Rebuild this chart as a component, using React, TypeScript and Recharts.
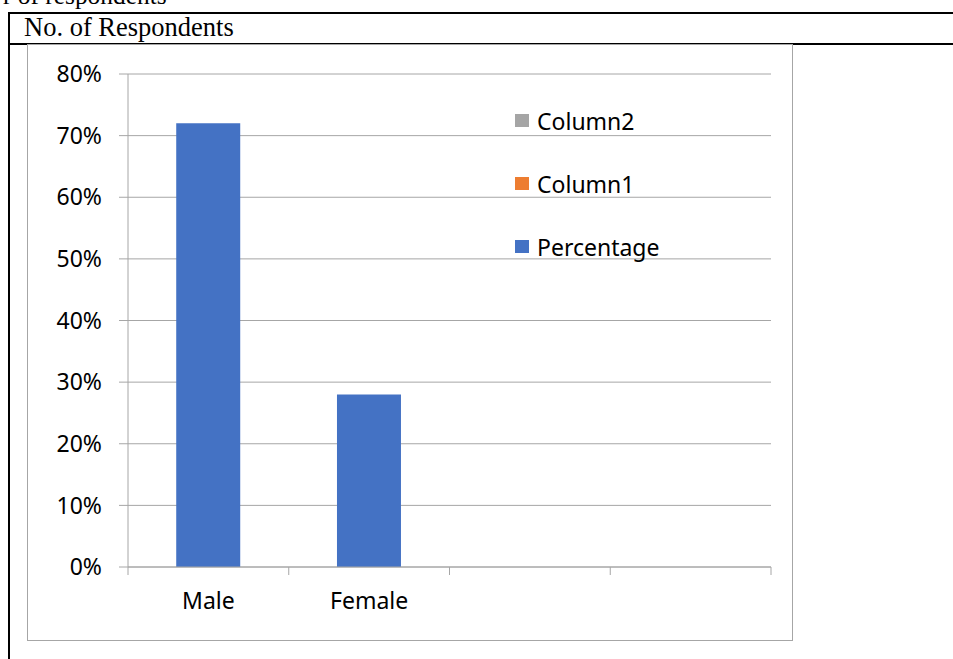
import { Bar, BarChart, CartesianGrid, Legend, XAxis, YAxis } from "recharts"

const categories = ["Male", "Female", "", ""]
const percentage = [0.72, 0.28, null, null]
const yTicks = [0, 0.1, 0.2, 0.3, 0.4, 0.5, 0.6, 0.7, 0.8]
const legendNames = ["Column2", "Column1", "Percentage"]
const legendColors = ["#A5A5A5", "#ED7D31", "#4472C4"]

const GRID = "#a6a6a6"
const FONT = "'Noto Sans', 'Open Sans', sans-serif"

const data = categories.map((name, i) => ({ name, value: percentage[i] }))

function CategoryTick(props: any) {
    const { x, y, payload, index, visibleTicksCount } = props
    const half = payload && typeof payload.offset === "number" ? payload.offset : 80
    const i = payload && typeof payload.index === "number" ? payload.index : index
    const isLast = index === visibleTicksCount - 1
    return (
        <g>
            <line x1={x - half} y1={y} x2={x - half} y2={y + 8} stroke={GRID} />
            {isLast && <line x1={x + half} y1={y} x2={x + half} y2={y + 8} stroke={GRID} />}
            <text x={x} y={y + 42} textAnchor="middle" fill="#000" fontSize={23} fontFamily={FONT}>
                {categories[i]}
            </text>
        </g>
    )
}

function LegendBox() {
    return (
        <div style={{ fontFamily: FONT, fontSize: 23, color: "#000" }}>
            {legendNames.map((name, i) => (
                <div key={name} style={{ height: 63, display: "flex", alignItems: "center" }}>
                    <span style={{ display: "inline-block", width: 14, height: 13, background: legendColors[i], marginRight: 8 }} />
                    <span>{name}</span>
                </div>
            ))}
        </div>
    )
}

export default function App() {
    return (
        <div style={{ position: "absolute", left: 0, top: 0, width: 953, height: 659, overflow: "hidden", background: "#fff" }}>
            {/* cut-off caption above the table */}
            <div style={{ position: "absolute", left: 3, top: -17, fontFamily: "'Liberation Serif', serif", fontSize: 25.4, lineHeight: "25px", whiteSpace: "nowrap" }}>
                r of respondents
            </div>
            {/* table frame */}
            <div style={{ position: "absolute", left: 8, top: 12, width: 945, height: 2, background: "#000" }} />
            <div style={{ position: "absolute", left: 8, top: 12, width: 2, height: 647, background: "#000" }} />
            <div style={{ position: "absolute", left: 8, top: 43, width: 945, height: 2, background: "#000" }} />
            <div style={{ position: "absolute", left: 24, top: 14, fontFamily: "'Liberation Serif', serif", fontSize: 26.5, lineHeight: "26px", whiteSpace: "nowrap" }}>
                No. of Respondents
            </div>
            {/* chart area border */}
            <div style={{ position: "absolute", left: 27, top: 44, width: 764, height: 595, border: `1px solid ${GRID}` }} />
            <div style={{ position: "absolute", left: 27, top: 44 }}>
                <BarChart width={765} height={596} data={data} margin={{ top: 30, right: 21, bottom: 0, left: 0 }} barCategoryGap="30%">
                    <CartesianGrid vertical={false} stroke={GRID} />
                    <XAxis
                        dataKey="name"
                        height={73}
                        interval={0}
                        stroke={GRID}
                        tickLine={false}
                        tickSize={0}
                        tickMargin={0}
                        tick={<CategoryTick />}
                    />
                    <YAxis
                        width={101}
                        domain={[0, 0.8]}
                        ticks={yTicks}
                        stroke={GRID}
                        tickSize={9}
                        tickMargin={17}
                        tick={{ fill: "#000", fontSize: 23, fontFamily: FONT }}
                        tickFormatter={(v: number) => `${Math.round(v * 100)}%`}
                    />
                    <Legend
                        layout="vertical"
                        align="center"
                        verticalAlign="middle"
                        content={<LegendBox />}
                        wrapperStyle={{ left: 488, top: 45, width: 200 }}
                    />
                    <Bar dataKey="value" name="Percentage" fill="#4472C4" isAnimationActive={false} />
                </BarChart>
            </div>
        </div>
    )
}
